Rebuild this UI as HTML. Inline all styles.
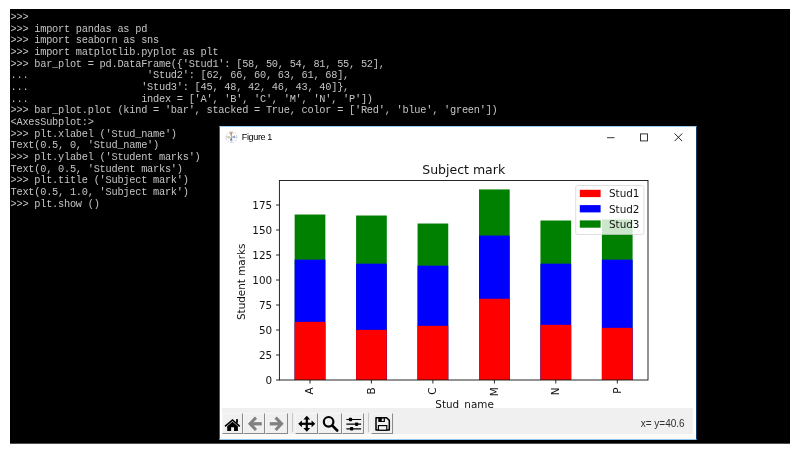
<!DOCTYPE html>
<html>
<head>
<meta charset="utf-8">
<title>Figure 1</title>
<style>
html,body{margin:0;padding:0;background:#fff;}
body{width:801px;height:454px;position:relative;overflow:hidden;}
#con{position:absolute;left:10px;top:9px;width:780px;height:434px;background:#000;border-bottom:1px solid #4d4d4d;}
#txt{position:absolute;left:0.5px;top:3px;margin:0;font-family:"Liberation Mono","DejaVu Sans Mono",monospace;font-size:10.3px;line-height:11.65px;color:#c4c4c4;white-space:pre;letter-spacing:-0.24px;}
#win{position:absolute;left:219px;top:126px;width:478px;height:314px;background:#fff;box-sizing:border-box;border:1px solid #24609f;border-right-color:#123a63;border-top-color:#9ccbee;border-bottom-color:#8ec3ee;}
#ttl{position:absolute;left:21.8px;top:4.2px;letter-spacing:-0.4px;font-family:"Liberation Sans",sans-serif;font-size:9.1px;color:#000;line-height:12px;}
#tb{position:absolute;left:2px;top:281px;width:470.6px;height:26px;background:#f0f0f0;}
#tbb{position:absolute;left:0;top:307px;width:476px;height:5px;background:#fdfbfa;}
.btn{position:absolute;top:4.5px;height:21.5px;box-sizing:border-box;border-right:1px solid #8a8a8a;border-bottom:1px solid #8a8a8a;border-left:1px solid #f6f6f6;border-top:1px solid #f6f6f6;background:#f0f0f0;}
.sep{position:absolute;top:5px;height:19px;width:1px;background:#c8c8c8;}
#coord{position:absolute;right:8px;top:10px;font-family:"Liberation Sans",sans-serif;font-size:10px;color:#303030;line-height:12px;white-space:pre;}
svg{position:absolute;left:0;top:0;overflow:visible;}
.dj{font-family:"DejaVu Sans","Liberation Sans",sans-serif;fill:#111;}
</style>
</head>
<body>
<div id="con">
<pre id="txt">&gt;&gt;&gt;
&gt;&gt;&gt; import pandas as pd
&gt;&gt;&gt; import seaborn as sns
&gt;&gt;&gt; import matplotlib.pyplot as plt
&gt;&gt;&gt; bar_plot = pd.DataFrame({'Stud1': [58, 50, 54, 81, 55, 52],
...                    'Stud2': [62, 66, 60, 63, 61, 68],
...                   'Stud3': [45, 48, 42, 46, 43, 40]},
...                   index = ['A', 'B', 'C', 'M', 'N', 'P'])
&gt;&gt;&gt; bar_plot.plot (kind = 'bar', stacked = True, color = ['Red', 'blue', 'green'])
&lt;AxesSubplot:&gt;
&gt;&gt;&gt; plt.xlabel ('Stud_name')
Text(0.5, 0, 'Stud_name')
&gt;&gt;&gt; plt.ylabel ('Student marks')
Text(0, 0.5, 'Student marks')
&gt;&gt;&gt; plt.title ('Subject mark')
Text(0.5, 1.0, 'Subject mark')
&gt;&gt;&gt; plt.show ()</pre>
</div>
<div id="win">
  <div id="ttl">Figure 1</div>
  <svg width="476" height="22" viewBox="220 127 476 22" style="top:0;left:0">
    <!-- matplotlib icon -->
    <g>
      <circle cx="231.5" cy="137.2" r="5.4" fill="#fff" stroke="#b8bcc4" stroke-width="0.8" stroke-dasharray="1.6 1.2"/>
      <path d="M231.5 137.2 L229.2 132.6 A5.2 5.2 0 0 1 232.6 132.1 Z" fill="#c9a27a"/>
      <path d="M231.5 137.2 L234.8 135.2 A3.8 3.8 0 0 1 235 138.4 Z" fill="#8fb0c8"/>
      <path d="M231.5 137.2 L232.6 140.6 A3.4 3.4 0 0 1 229.6 140 Z" fill="#5a7fa8"/>
      <path d="M231.5 137.2 L227.8 138.6 A4 4 0 0 1 227.6 136 Z" fill="#d9c9a0"/>
      <path d="M231.5 131.6 V142.8 M225.9 137.2 H237.1" stroke="#9aa0a8" stroke-width="0.4" fill="none"/>
    </g>
    <!-- window controls -->
    <g fill="none" stroke="#222" stroke-width="0.9">
      <path d="M607 137.7 H614.6"/>
      <rect x="640.5" y="133.9" width="7" height="7"/>
      <path d="M674.6 133.5 L682.2 141.1 M682.2 133.5 L674.6 141.1" stroke-width="1"/>
    </g>
  </svg>
  <!-- chart: svg coordinates are page coords minus (220,127) -->
  <svg width="476" height="281" viewBox="220 127 476 281">
    <!-- bars -->
    <g>
      <g fill="#008000">
        <rect x="294.65" y="214.51" width="30.7" height="165.49"/>
        <rect x="356.10" y="215.51" width="30.7" height="164.49"/>
        <rect x="417.55" y="223.53" width="30.7" height="156.47"/>
        <rect x="479.00" y="189.43" width="30.7" height="190.57"/>
        <rect x="540.45" y="220.52" width="30.7" height="159.48"/>
        <rect x="601.90" y="219.52" width="30.7" height="160.48"/>
      </g>
      <g fill="#0000ff">
        <rect x="294.65" y="259.64" width="30.7" height="120.36"/>
        <rect x="356.10" y="263.65" width="30.7" height="116.35"/>
        <rect x="417.55" y="265.66" width="30.7" height="114.34"/>
        <rect x="479.00" y="235.57" width="30.7" height="144.43"/>
        <rect x="540.45" y="263.65" width="30.7" height="116.35"/>
        <rect x="601.90" y="259.64" width="30.7" height="120.36"/>
      </g>
      <g fill="#ff0000">
        <rect x="294.65" y="321.83" width="30.7" height="58.17"/>
        <rect x="356.10" y="329.85" width="30.7" height="50.15"/>
        <rect x="417.55" y="325.84" width="30.7" height="54.16"/>
        <rect x="479.00" y="298.76" width="30.7" height="81.24"/>
        <rect x="540.45" y="324.84" width="30.7" height="55.16"/>
        <rect x="601.90" y="327.84" width="30.7" height="52.16"/>
      </g>
    </g>
    <!-- axes frame -->
    <rect x="279.4" y="180.5" width="368.6" height="199.5" fill="none" stroke="#111" stroke-width="0.9"/>
    <!-- y ticks -->
    <g stroke="#111" stroke-width="0.9">
      <line x1="276" x2="279.4" y1="380" y2="380"/>
      <line x1="276" x2="279.4" y1="355" y2="355"/>
      <line x1="276" x2="279.4" y1="330" y2="330"/>
      <line x1="276" x2="279.4" y1="305" y2="305"/>
      <line x1="276" x2="279.4" y1="280" y2="280"/>
      <line x1="276" x2="279.4" y1="255" y2="255"/>
      <line x1="276" x2="279.4" y1="230" y2="230"/>
      <line x1="276" x2="279.4" y1="205" y2="205"/>
      <line x1="310" x2="310" y1="380" y2="383.5"/>
      <line x1="371.4" x2="371.4" y1="380" y2="383.5"/>
      <line x1="432.9" x2="432.9" y1="380" y2="383.5"/>
      <line x1="494.4" x2="494.4" y1="380" y2="383.5"/>
      <line x1="555.8" x2="555.8" y1="380" y2="383.5"/>
      <line x1="617.3" x2="617.3" y1="380" y2="383.5"/>
    </g>
    <g class="dj" font-size="10.4" text-anchor="end">
      <text x="272.2" y="384">0</text>
      <text x="272.2" y="359">25</text>
      <text x="272.2" y="334">50</text>
      <text x="272.2" y="309">75</text>
      <text x="272.2" y="284">100</text>
      <text x="272.2" y="259">125</text>
      <text x="272.2" y="234">150</text>
      <text x="272.2" y="209">175</text>
    </g>
    <g class="dj" font-size="10.4" text-anchor="end">
      <text transform="translate(313.2,387.4) rotate(-90)">A</text>
      <text transform="translate(374.6,387.4) rotate(-90)">B</text>
      <text transform="translate(436.1,387.4) rotate(-90)">C</text>
      <text transform="translate(497.6,387.4) rotate(-90)">M</text>
      <text transform="translate(559.0,387.4) rotate(-90)">N</text>
      <text transform="translate(620.5,387.4) rotate(-90)">P</text>
    </g>
    <text class="dj" font-size="10.4" text-anchor="middle" x="464.6" y="407.5">Stud_name</text>
    <text class="dj" font-size="10.4" text-anchor="middle" transform="translate(244.5,281.8) rotate(-90)">Student marks</text>
    <text class="dj" font-size="12.5" text-anchor="middle" x="463.7" y="174">Subject mark</text>
    <!-- legend -->
    <rect x="575.7" y="185.5" width="68.2" height="49" rx="2" ry="2" fill="#fff" fill-opacity="0.8" stroke="#cccccc" stroke-opacity="0.8" stroke-width="0.8"/>
    <rect x="579.8" y="189.8" width="20.8" height="7.3" fill="#ff0000"/>
    <rect x="579.8" y="205.1" width="20.8" height="7.3" fill="#0000ff"/>
    <rect x="579.8" y="220.4" width="20.8" height="7.3" fill="#008000"/>
    <g class="dj" font-size="10.4">
      <text x="609" y="197.2">Stud1</text>
      <text x="609" y="212.5">Stud2</text>
      <text x="609" y="227.8">Stud3</text>
    </g>
  </svg>
  <div id="tb">
    <div class="btn" style="left:0.0px;width:20.6px"></div>
    <div class="btn" style="left:20.6px;width:22.8px"></div>
    <div class="btn" style="left:43.4px;width:22.4px"></div>
    <div class="sep" style="left:69.5px"></div>
    <div class="btn" style="left:73.0px;width:23.2px"></div>
    <div class="btn" style="left:96.2px;width:23.6px"></div>
    <div class="btn" style="left:119.8px;width:22.6px"></div>
    <div class="sep" style="left:145.8px"></div>
    <div class="btn" style="left:149.4px;width:21.8px"></div>
    <svg width="471.5" height="26" viewBox="222 408 471.5 26">
      <!-- home -->
      <g fill="#000" stroke="none">
        <path d="M224.5 425.7 L232.5 419 L240.3 425.7 L239.3 426.9 L232.5 421.1 L225.5 426.9 Z"/>
        <path d="M227.2 426.2 L232.5 421.8 L237.9 426.2 V431 H234 V427.3 H231.1 V431 H227.2 Z"/>
        <rect x="236.1" y="419.1" width="1.8" height="3.8"/>
      </g>
      <!-- back / forward -->
      <g fill="none" stroke="#808080" stroke-width="3" stroke-linejoin="miter">
        <path d="M256 417.6 L250 423.8 L256 430"/>
        <path d="M250.6 423.8 H261.8" stroke-width="3.3"/>
        <path d="M275.6 417.6 L281.6 423.8 L275.6 430"/>
        <path d="M281 423.8 H269.8" stroke-width="3.3"/>
      </g>
      <!-- move -->
      <g fill="#000" stroke="#000">
        <path d="M300.5 423.8 H313" stroke-width="2.2" fill="none"/>
        <path d="M306.8 418 V429.8" stroke-width="2.2" fill="none"/>
        <path stroke="none" d="M298.2 423.8 L301.9 420.4 V427.2 Z M315.3 423.8 L311.6 420.4 V427.2 Z M306.8 415.8 L303.4 419.5 H310.2 Z M306.8 431.8 L303.4 428.1 H310.2 Z"/>
      </g>
      <!-- zoom -->
      <g fill="none" stroke="#000">
        <circle cx="328.6" cy="421.8" r="4.8" stroke-width="2.2"/>
        <path d="M332.6 425.9 L337.2 430.5" stroke-width="2.6" stroke-linecap="round"/>
      </g>
      <!-- sliders -->
      <g fill="#000" stroke="#000" stroke-width="1.2">
        <path d="M346.4 419.5 H361.1 M346.4 424.2 H361.1 M346.4 428.8 H361.1" fill="none"/>
        <rect x="348.9" y="417.8" width="3.2" height="3.4" rx="0.8" stroke="none"/>
        <rect x="355" y="422.5" width="3.2" height="3.4" rx="0.8" stroke="none"/>
        <rect x="350" y="427.1" width="3.2" height="3.4" rx="0.8" stroke="none"/>
      </g>
      <!-- save -->
      <g>
        <path d="M376 417.7 H386.6 L389.3 420.4 V429.9 H376 Z" fill="#f0f0f0" stroke="#000" stroke-width="1.5" stroke-linejoin="round"/>
        <rect x="378.3" y="417.6" width="6.6" height="4.4" fill="#000"/>
        <rect x="381.8" y="418.6" width="1.9" height="2.4" fill="#e8e8e8"/>
        <rect x="378.4" y="425.6" width="8.4" height="4.6" fill="#f4f4f4" stroke="#000" stroke-width="1.2"/>
      </g>
    </svg>
    <div id="coord">x= y=40.6</div>
  </div>
  <div id="tbb"></div>
</div>
</body>
</html>
